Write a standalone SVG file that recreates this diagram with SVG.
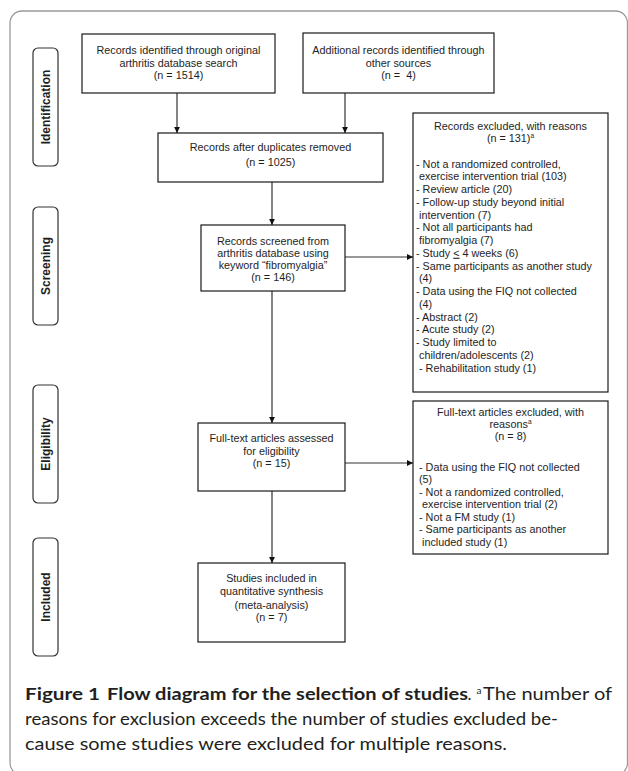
<svg xmlns="http://www.w3.org/2000/svg" width="628" height="771" viewBox="0 0 628 771">
<style>
.frame{fill:none;stroke:#9a9a9a;stroke-width:1.3}
.box{fill:#fff;stroke:#1a1a1a;stroke-width:1.2}
.phase{fill:#fff;stroke:#333;stroke-width:1.2}
.t{font-family:"Liberation Sans",Arial,sans-serif;font-size:10.8px;fill:#1e1e1e}
.c{text-anchor:middle}
.ph{font-family:"Liberation Sans",Arial,sans-serif;font-size:12px;font-weight:bold;fill:#1e1e1e;text-anchor:middle}
.sup{font-size:6.5px}
.conn{fill:none;stroke:#333;stroke-width:1.2}
.cap{font-family:Lato,"Open Sans",sans-serif;font-size:17px;fill:#231f20}
.capb{font-weight:bold}
</style>
<defs>
<marker id="ah" markerUnits="userSpaceOnUse" markerWidth="7" markerHeight="7" viewBox="0 0 7 7" refX="6" refY="3.5" orient="auto">
<path d="M0,0.6 L6,3.5 L0,6.4 Z" fill="#111"/>
</marker>
</defs>
<rect class="frame" x="10" y="11" width="617.5" height="764" rx="12"/>

<g id="phase-identification">
<rect class="phase" x="33" y="48" width="25" height="118" rx="5"/>
<text class="ph" transform="translate(50.3,107) rotate(-90)">Identification</text>
</g>
<g id="phase-screening">
<rect class="phase" x="33" y="207" width="25" height="118" rx="5"/>
<text class="ph" transform="translate(50.3,266) rotate(-90)">Screening</text>
</g>
<g id="phase-eligibility">
<rect class="phase" x="33" y="385" width="25" height="118" rx="5"/>
<text class="ph" transform="translate(50.3,444) rotate(-90)">Eligibility</text>
</g>
<g id="phase-included">
<rect class="phase" x="33" y="538" width="25" height="118" rx="5"/>
<text class="ph" transform="translate(50.3,597) rotate(-90)">Included</text>
</g>

<g id="connectors">
<line class="conn" x1="177" y1="93" x2="177" y2="133" marker-end="url(#ah)"/>
<line class="conn" x1="345" y1="93" x2="345" y2="133" marker-end="url(#ah)"/>
<line class="conn" x1="272" y1="182" x2="272" y2="225" marker-end="url(#ah)"/>
<line class="conn" x1="345" y1="257" x2="413" y2="257" marker-end="url(#ah)"/>
<line class="conn" x1="272" y1="291" x2="272" y2="423" marker-end="url(#ah)"/>
<line class="conn" x1="345" y1="463" x2="413" y2="463" marker-end="url(#ah)"/>
<line class="conn" x1="272" y1="491" x2="272" y2="563" marker-end="url(#ah)"/>
</g>

<g id="records-identified">
<rect class="box" x="82" y="34" width="193" height="59"/>
<text class="t c" x="178.5" y="54">Records identified through original</text>
<text class="t c" x="178.5" y="66.5">arthritis database search</text>
<text class="t c" x="178.5" y="79">(n = 1514)</text>
</g>
<g id="additional-records">
<rect class="box" x="303" y="33" width="191" height="60"/>
<text class="t c" x="398.5" y="54">Additional records identified through</text>
<text class="t c" x="398.5" y="66.5">other sources</text>
<text class="t c" x="398.5" y="79">(n = &#160;4)</text>
</g>
<g id="after-duplicates">
<rect class="box" x="158" y="133" width="225" height="49"/>
<text class="t c" x="270.5" y="150.5">Records after duplicates removed</text>
<text class="t c" x="270.5" y="165.5">(n = 1025)</text>
</g>
<g id="records-screened">
<rect class="box" x="201" y="225" width="144" height="66"/>
<text class="t c" x="273" y="245">Records screened from</text>
<text class="t c" x="273" y="257">arthritis database using</text>
<text class="t c" x="273" y="269">keyword “fibromyalgia”</text>
<text class="t c" x="273" y="281">(n = 146)</text>
</g>
<g id="records-excluded">
<rect class="box" x="413" y="113" width="195" height="279"/>
<text class="t c" x="510.5" y="130">Records excluded, with reasons</text>
<text class="t c" x="510.5" y="142">(n = 131)<tspan class="sup" dy="-4">a</tspan></text>
<text class="t" x="416" y="167.5">- Not a randomized controlled,</text>
<text class="t" x="419" y="180.25">exercise intervention trial (103)</text>
<text class="t" x="416" y="193">- Review article (20)</text>
<text class="t" x="416" y="205.75">- Follow-up study beyond initial</text>
<text class="t" x="419" y="218.5">intervention (7)</text>
<text class="t" x="416" y="231.25">- Not all participants had</text>
<text class="t" x="419" y="244">fibromyalgia (7)</text>
<text class="t" x="416" y="256.75">- Study <tspan text-decoration="underline">&lt;</tspan> 4 weeks (6)</text>
<text class="t" x="416" y="269.5">- Same participants as another study</text>
<text class="t" x="419" y="282.25">(4)</text>
<text class="t" x="416" y="295">- Data using the FIQ not collected</text>
<text class="t" x="419" y="307.75">(4)</text>
<text class="t" x="416" y="320.5">- Abstract (2)</text>
<text class="t" x="416" y="333.25">- Acute study (2)</text>
<text class="t" x="416" y="346">- Study limited to</text>
<text class="t" x="419" y="358.75">children/adolescents (2)</text>
<text class="t" x="419" y="371.5">- Rehabilitation study (1)</text>
</g>
<g id="fulltext-assessed">
<rect class="box" x="198" y="423" width="147" height="68"/>
<text class="t c" x="271.5" y="442">Full-text articles assessed</text>
<text class="t c" x="271.5" y="455">for eligibility</text>
<text class="t c" x="271.5" y="467">(n = 15)</text>
</g>
<g id="fulltext-excluded">
<rect class="box" x="413" y="401" width="195" height="153"/>
<text class="t c" x="510.5" y="416">Full-text articles excluded, with</text>
<text class="t c" x="510.5" y="428">reasons<tspan class="sup" dy="-4">a</tspan></text>
<text class="t c" x="510.5" y="440">(n = 8)</text>
<text class="t" x="419" y="470.5">- Data using the FIQ not collected</text>
<text class="t" x="419" y="483">(5)</text>
<text class="t" x="419" y="495.5">- Not a randomized controlled,</text>
<text class="t" x="422" y="508">exercise intervention trial (2)</text>
<text class="t" x="419" y="520.5">- Not a FM study (1)</text>
<text class="t" x="419" y="533">- Same participants as another</text>
<text class="t" x="422" y="545.5">included study (1)</text>
</g>
<g id="studies-included">
<rect class="box" x="198" y="563" width="147" height="79"/>
<text class="t c" x="271.5" y="582">Studies included in</text>
<text class="t c" x="271.5" y="595">quantitative synthesis</text>
<text class="t c" x="271.5" y="608.5">(meta-analysis)</text>
<text class="t c" x="271.5" y="620.5">(n = 7)</text>
</g>

<g id="caption">
<text class="cap capb" x="25" y="700" textLength="75" lengthAdjust="spacingAndGlyphs">Figure 1</text>
<text class="cap capb" x="107" y="700" textLength="361" lengthAdjust="spacingAndGlyphs">Flow diagram for the selection of studies</text>
<text class="cap" x="467.5" y="700">.</text>
<text class="cap" x="476.5" y="694" style="font-size:10px">a</text>
<text class="cap" x="483" y="700" textLength="129" lengthAdjust="spacingAndGlyphs">The number of</text>
<text class="cap" x="25" y="725" textLength="533" lengthAdjust="spacingAndGlyphs">reasons for exclusion exceeds the number of studies excluded be-</text>
<text class="cap" x="25" y="750" textLength="482" lengthAdjust="spacingAndGlyphs">cause some studies were excluded for multiple reasons.</text>
</g>
</svg>
